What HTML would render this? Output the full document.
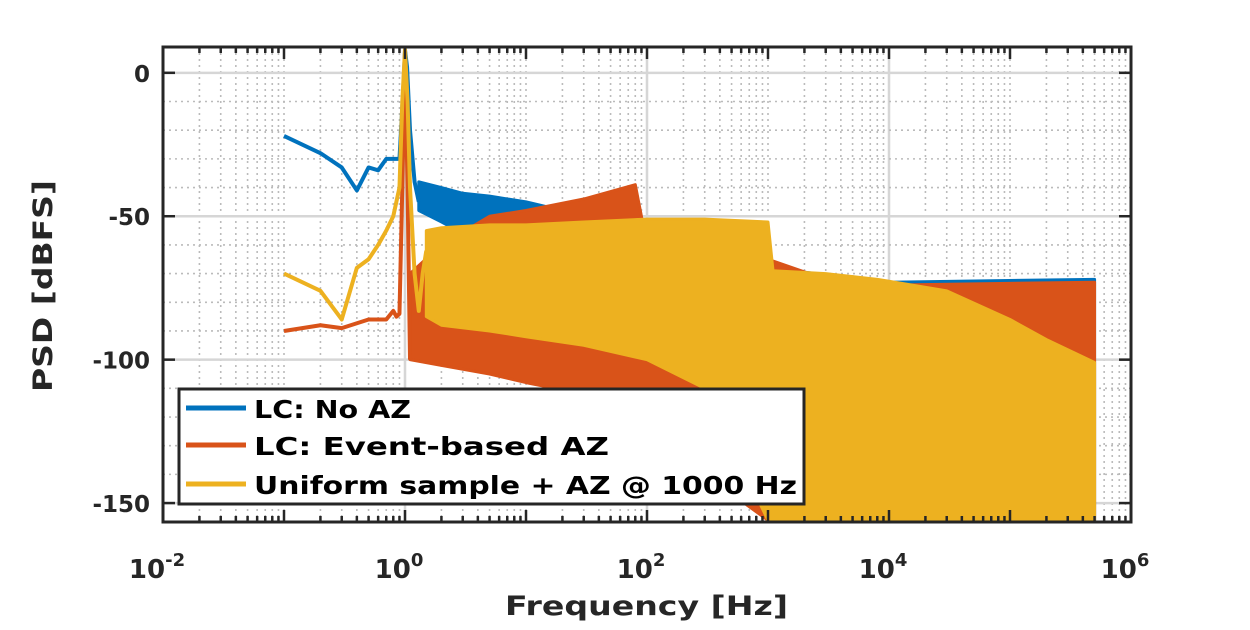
<!DOCTYPE html>
<html><head><meta charset="utf-8"><style>
body{margin:0;background:#fff;}
svg text{font-family:"DejaVu Sans","Liberation Sans",sans-serif;font-weight:bold;fill:#262626;}
</style></head><body>
<svg id="chart" width="1250" height="625" viewBox="0 0 1250 625" xmlns="http://www.w3.org/2000/svg">
<rect width="1250" height="625" fill="#fff"/>
<g id="grid"></g>
<g id="series"></g>
<g id="axes"></g>
</svg>
<script>
// ---- data ----
const xTickExps = [-2, 0, 2, 4, 6];
const yTicks = [0, -50, -100, -150];
// Blue: LC: No AZ
const blueLineF = [0.1, 0.2, 0.3, 0.4, 0.5, 0.6, 0.7, 0.8, 0.9, 0.97, 1.0, 1.04, 1.1, 1.2, 1.3];
const blueLineDb = [-22, -28, -33, -41, -33, -34, -30, -30, -30, -5, 8, 2, -20, -38, -45];
const blueBandF = [1.3, 2, 3, 5, 10, 20, 30, 50, 100, 1000, 10000, 500000];
const blueBandHi = [-38, -40, -42, -43, -45, -48, -50, -53, -58, -68, -73, -72];
const blueBandLo = [-48, -52, -56, -60, -62, -66, -70, -80, -95, -145, -156, -156];
// Red: LC: Event-based AZ
const redLineF = [0.1, 0.2, 0.3, 0.5, 0.7, 0.8, 0.85, 0.9, 0.95, 1.0, 1.05, 1.1];
const redLineDb = [-90, -88, -89, -86, -86, -83, -85, -84, -40, 5, -40, -100];
const redBandF = [1.1, 2, 5, 10, 30, 80, 100, 300, 1000, 3000, 10000, 500000];
const redBandHi = [-70, -60, -50, -48, -44, -39, -60, -62, -65, -72, -74, -73];
const redBandLo = [-100, -102, -105, -108, -112, -115, -120, -140, -156, -156, -156, -156];
// Yellow: Uniform sample + AZ @ 1000 Hz
const yelLineF = [0.1, 0.2, 0.3, 0.4, 0.5, 0.6, 0.7, 0.8, 0.9, 0.95, 1.0, 1.05, 1.1, 1.2, 1.3, 1.4, 1.5];
const yelLineDb = [-70, -76, -86, -68, -65, -60, -55, -50, -40, -10, 8, -10, -40, -70, -83, -70, -62];
const yelBandF = [1.5, 2, 5, 10, 30, 100, 300, 1000, 1100, 3000, 8000, 30000, 100000, 200000, 500000];
const yelBandHi = [-55, -54, -53, -53, -52, -51, -51, -52, -69, -70, -72, -76, -86, -93, -101];
const yelBandLo = [-85, -88, -90, -92, -95, -100, -110, -156, -156, -156, -156, -156, -156, -156, -156];

// ---- scales ----
const X0 = 163, X1 = 1131, Y0 = 47, Y1 = 522;
const xMinE = -2, xMaxE = 6, yMax = 9, yMin = -156.6;
function xs(f){ return X0 + (Math.log10(f) - xMinE) / (xMaxE - xMinE) * (X1 - X0); }
function ys(v){ v = Math.max(yMin, Math.min(yMax, v)); return Y0 + (yMax - v) / (yMax - yMin) * (Y1 - Y0); }
const NS = "http://www.w3.org/2000/svg";
function mk(tag, attrs, parent){ const e = document.createElementNS(NS, tag); for (const k in attrs) e.setAttribute(k, attrs[k]); parent.appendChild(e); return e; }

const grid = document.getElementById('grid');
for (let d = xMinE; d < xMaxE; d++) {
  for (let k = 1; k <= 9; k++) {
    const f = k * Math.pow(10, d);
    if (k === 1 && d === xMinE) continue;
    const x = xs(f);
    const major = (k === 1 && d % 2 === 0);
    const l = mk('line', {x1:x, x2:x, y1:Y0, y2:Y1, stroke: major ? '#d6d6d6' : '#bbb', 'stroke-width': major ? 2.5 : 1.6, 'stroke-dasharray': major ? '' : '2,4'}, grid);
    
    
  }
}
for (let v = 0; v >= -150; v -= 10) {
  const y = ys(v), major = (v % 50 === 0);
  const l = mk('line', {x1:X0, x2:X1, y1:y, y2:y, stroke: major ? '#d6d6d6' : '#bbb', 'stroke-width': major ? 2.5 : 1.6, 'stroke-dasharray': major ? '' : '2,4'}, grid);
  
  
}

const series = document.getElementById('series');
function drawSeries(name, color, lf, ld, bf, bh, bl) {
  const g = mk('g', {}, series);
  
  
  let pts = [];
  for (let i = 0; i < bf.length; i++) pts.push(xs(bf[i]) + ',' + ys(bh[i]));
  for (let i = bf.length - 1; i >= 0; i--) pts.push(xs(bf[i]) + ',' + ys(bl[i]));
  const band = mk('polygon', {points: pts.join(' '), fill: color, stroke: color, 'stroke-width': 3, 'stroke-linejoin': 'round'}, g);
  
  
  const lp = lf.map((f, i) => xs(f) + ',' + ys(ld[i])).join(' ');
  const line = mk('polyline', {points: lp, fill: 'none', stroke: color, 'stroke-width': 4, 'stroke-linejoin': 'round'}, g);
  
  
}
drawSeries('series-no-az', '#0072BD', blueLineF, blueLineDb, blueBandF, blueBandHi, blueBandLo);
drawSeries('series-event-az', '#D95319', redLineF, redLineDb, redBandF, redBandHi, redBandLo);
drawSeries('series-uniform-az', '#EDB120', yelLineF, yelLineDb, yelBandF, yelBandHi, yelBandLo);

const axes = document.getElementById('axes');
const box = mk('rect', {x:X0, y:Y0, width:X1-X0, height:Y1-Y0, fill:'none', stroke:'#262626', 'stroke-width':3}, axes);


for (let d = xMinE; d <= xMaxE; d++) for (let k = 1; k <= 9; k++) {
  if (d === xMaxE && k > 1) break;
  const x = xs(k * Math.pow(10, d)), len = k === 1 ? 12 : 6;
  mk('line', {x1:x, x2:x, y1:Y1, y2:Y1-len, stroke:'#262626', 'stroke-width':2.5}, axes);
  mk('line', {x1:x, x2:x, y1:Y0, y2:Y0+len, stroke:'#262626', 'stroke-width':2.5}, axes);
}
xTickExps.forEach(e => {
  const t = mk('text', {x: xs(Math.pow(10, e)) - 6, y: 578, 'text-anchor':'middle', 'font-size': 26}, axes);
  
  
  t.textContent = '10';
  const s = mk('tspan', {dy: -12, 'font-size': 18}, t);
  s.textContent = String(e);
});
yTicks.forEach(v => {
  const y = ys(v);
  mk('line', {x1:X0, x2:X0+12, y1:y, y2:y, stroke:'#262626', 'stroke-width':2.5}, axes);
  mk('line', {x1:X1, x2:X1-12, y1:y, y2:y, stroke:'#262626', 'stroke-width':2.5}, axes);
  const t = mk('text', {x: 150, y: y + 9, 'text-anchor':'end', 'font-size': 23}, axes);
  
  
  t.textContent = String(v);
});
</script>
<svg style="position:absolute;left:0;top:0" width="1250" height="625">
<text x="505" y="615" textLength="283" lengthAdjust="spacingAndGlyphs" font-size="27" style="font-family:'DejaVu Sans','Liberation Sans',sans-serif;font-weight:bold;fill:#262626">Frequency [Hz]</text>
<text x="0" y="0" transform="translate(52,392) rotate(-90)" textLength="212" lengthAdjust="spacingAndGlyphs" font-size="27" style="font-family:'DejaVu Sans','Liberation Sans',sans-serif;font-weight:bold;fill:#262626">PSD [dBFS]</text>
<g>
<rect x="179" y="389" width="625" height="115" fill="#fff" stroke="#262626" stroke-width="3"/>
<line x1="186" x2="246" y1="408" y2="408" stroke="#0072BD" stroke-width="5"/>
<text x="254" y="418" textLength="157" lengthAdjust="spacingAndGlyphs" font-size="25" style="font-family:'DejaVu Sans','Liberation Sans',sans-serif;font-weight:bold;fill:#000">LC: No AZ</text>
<line x1="186" x2="246" y1="445" y2="445" stroke="#D95319" stroke-width="5"/>
<text x="254" y="455" textLength="355" lengthAdjust="spacingAndGlyphs" font-size="25" style="font-family:'DejaVu Sans','Liberation Sans',sans-serif;font-weight:bold;fill:#000">LC: Event-based AZ</text>
<line x1="186" x2="246" y1="484" y2="484" stroke="#EDB120" stroke-width="5"/>
<text x="254" y="494" textLength="543" lengthAdjust="spacingAndGlyphs" font-size="25" style="font-family:'DejaVu Sans','Liberation Sans',sans-serif;font-weight:bold;fill:#000">Uniform sample + AZ @ 1000 Hz</text>
</g>
</svg>
</body></html>
